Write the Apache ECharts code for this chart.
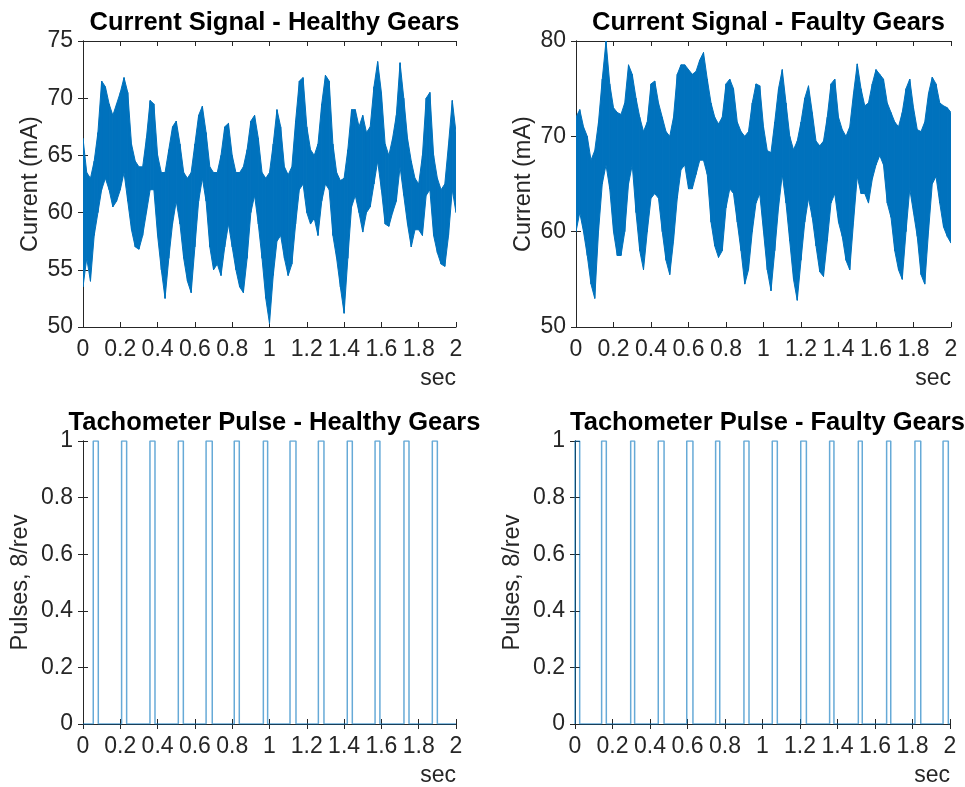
<!DOCTYPE html>
<html>
<head>
<meta charset="utf-8">
<script src="https://cdn.jsdelivr.net/npm/echarts@6/dist/echarts.min.js"></script>
<style>
  html, body { margin: 0; padding: 0; background: #fff; }
  #main { width: 965px; height: 787px; }
</style>
</head>
<body>
<div id="main"></div>
<script>
// sample times (sec) of the envelope readings, every 0.02 s
var timeSec = [
  0, 0.02, 0.04, 0.06, 0.08, 0.1, 0.12, 0.14, 0.16, 0.18,
  0.2, 0.22, 0.24, 0.26, 0.28, 0.3, 0.32, 0.34, 0.36, 0.38,
  0.4, 0.42, 0.44, 0.46, 0.48, 0.5, 0.52, 0.54, 0.56, 0.58,
  0.6, 0.62, 0.64, 0.66, 0.68, 0.7, 0.72, 0.74, 0.76, 0.78,
  0.8, 0.82, 0.84, 0.86, 0.88, 0.9, 0.92, 0.94, 0.96, 0.98,
  1, 1.02, 1.04, 1.06, 1.08, 1.1, 1.12, 1.14, 1.16, 1.18,
  1.2, 1.22, 1.24, 1.26, 1.28, 1.3, 1.32, 1.34, 1.36, 1.38,
  1.4, 1.42, 1.44, 1.46, 1.48, 1.5, 1.52, 1.54, 1.56, 1.58,
  1.6, 1.62, 1.64, 1.66, 1.68, 1.7, 1.72, 1.74, 1.76, 1.78,
  1.8, 1.82, 1.84, 1.86, 1.88, 1.9, 1.92, 1.94, 1.96, 1.98,
  2
];

// current signal envelope (mA): max / min in each 0.02 s slot
var healthyHigh = [
  66.5, 63.5, 63, 64.5, 67, 71.5, 71, 69.5, 68.5, 69.5,
  70.5, 71.8, 70.5, 66, 64.5, 64, 64, 66.5, 69.8, 69.5,
  65, 63.5, 63.5, 65.5, 67.5, 68, 66, 63.5, 63, 63.5,
  66, 68.5, 69.3, 67, 64, 63.5, 63.5, 65, 67.5, 67.8,
  65, 63.5, 63.5, 64, 65.5, 68, 68.5, 66.5, 63.5, 63,
  63.5, 66, 69, 67.5, 64, 63.3, 64, 68, 71.5, 71.8,
  67.5, 65.5, 65, 66, 69.5, 72, 71.5, 66, 63.5, 62.8,
  63, 65.5, 69, 69, 67.5, 68.5, 67, 67.5, 71, 73.2,
  70.5, 66, 65, 66.5, 68.5, 73.1, 70, 66.5, 64.5, 63,
  62.5, 65, 70, 70.5, 65, 63, 62, 62.5, 66, 69.8,
  67
];
var healthyLow = [
  53.5, 56, 54, 58, 60, 62, 63, 62, 60.5, 61,
  62, 63.5, 61, 58.5, 57, 56.8, 58, 60, 62, 62,
  58, 55, 52.5, 56, 59, 61, 59, 56, 54, 53,
  57, 61, 63, 61, 57, 55, 55.5, 54.5, 57, 59,
  57, 55, 53.5, 53, 56, 60, 61.5, 59, 56, 52.5,
  50.3, 54.5, 57.5, 58, 56, 54.5, 55.5, 59, 62, 62.5,
  60, 59, 59.5, 58, 61, 62.5, 62, 58, 56, 53.5,
  51.2, 56, 60.5, 61.5, 60, 58.3, 60, 60.5, 62.5, 64.5,
  62, 59, 58.8, 60, 61, 64, 61.5, 59, 57, 58.5,
  58.5, 58, 61.5, 62, 58, 56.5, 55.5, 55.3, 58, 62,
  60
];
var faultyHigh = [
  72, 72.8, 71, 70, 67.5, 68.5, 71.5, 76, 80, 75.5,
  73, 72.5, 72.3, 73.5, 77.5, 76.5, 74, 72, 70.5, 71.5,
  75.5, 75.8, 73.5, 72, 70.5, 70, 72, 76.5, 77.5, 77.5,
  77, 76.5, 76.8, 78, 78.8, 76, 73.5, 72, 71.3, 72,
  75.5, 76, 75, 71.5, 70.5, 70, 70.5, 73.5, 75.5, 75.3,
  71, 68.5, 68.3, 71.5, 75, 77, 73.5, 70, 68.6, 69.5,
  71.5, 74, 75.3, 72.5, 69.5, 69, 69.5, 72, 75.5, 76,
  72, 70.7, 70, 71, 74.5, 77.6, 75, 73.2, 73.5, 75.5,
  77, 76.5, 76, 73.5, 72.5, 71.5, 71, 72.5, 75, 76,
  73, 70.7, 70.5, 71.5, 74.5, 76.2, 75.5, 73.5, 73.2, 73,
  72.5
];
var faultyLow = [
  60, 62, 60, 57.5, 54.5, 53, 60, 65, 67, 64.5,
  60, 57.5, 57.5, 60, 65, 67, 62, 58, 56, 60,
  63.5, 64, 63.5, 60, 57, 55.5, 59, 63.5, 66.5, 67,
  64.5, 64.5, 66, 67.5, 67.5, 66, 61, 58.5, 57.3, 58,
  62.5, 64.5, 64, 61, 58, 54.5, 56, 60, 63, 64,
  60, 56, 53.8, 58, 62.5, 66, 63, 59, 55, 52.8,
  57, 61, 63.5, 61.5, 58.5, 55.8, 55.3, 59, 63, 64,
  61, 59.5, 57, 56, 61, 65.8, 64, 64, 63, 65.5,
  67, 68, 67, 63, 61.5, 58, 56, 55, 60, 64.5,
  62, 59.5, 55.5, 54.5, 60, 65, 65.8, 63, 60.5, 59.5,
  58.8
];

// tachometer pulses: rising / falling edge times (sec)
var healthyRise = [0.055, 0.207, 0.359, 0.511, 0.660, 0.811, 0.967, 1.110, 1.262, 1.417, 1.566, 1.721, 1.873];
var healthyFall = [0.082, 0.234, 0.386, 0.538, 0.693, 0.838, 0.990, 1.142, 1.292, 1.444, 1.592, 1.748, 1.900];
var faultyRise = [0.000, 0.142, 0.297, 0.444, 0.596, 0.750, 0.901, 1.052, 1.204, 1.358, 1.511, 1.662, 1.813, 1.963];
var faultyFall = [0.025, 0.167, 0.318, 0.475, 0.629, 0.772, 0.928, 1.079, 1.234, 1.381, 1.532, 1.684, 1.844, 1.991];

var titles = [
  'Current Signal - Healthy Gears',
  'Current Signal - Faulty Gears',
  'Tachometer Pulse - Healthy Gears',
  'Tachometer Pulse - Faulty Gears'
];

var LINE_BLUE = '#0072BD';
var AXIS_GRAY = '#262626';
var FONT = '"Liberation Sans", Arial, Helvetica, sans-serif';

var grids = [
  { left: 83, top: 41, width: 373, height: 286 },
  { left: 576, top: 41, width: 375, height: 286 },
  { left: 83, top: 441, width: 373, height: 285 },
  { left: 575, top: 441, width: 375, height: 285 }
];
var yRanges = [
  { min: 50, max: 75, interval: 5, name: 'Current (mA)', gap: 40 },
  { min: 50, max: 80, interval: 10, name: 'Current (mA)', gap: 40 },
  { min: 0, max: 1, interval: 0.2, name: 'Pulses, 8/rev', gap: 50 },
  { min: 0, max: 1, interval: 0.2, name: 'Pulses, 8/rev', gap: 50 }
];

var xAxes = [], yAxes = [], titleList = [];
grids.forEach(function (g, i) {
  var tick = { show: true, inside: true, length: 5, lineStyle: { color: AXIS_GRAY, width: 1 } };
  var line = { show: true, lineStyle: { color: AXIS_GRAY, width: 1 } };
  xAxes.push({
    type: 'value', gridIndex: i, min: 0, max: 2, interval: 0.2,
    axisLine: line, axisTick: tick, splitLine: { show: false },
    axisLabel: { fontSize: 23, color: AXIS_GRAY, fontFamily: FONT, margin: 11 },
    name: 'sec', nameLocation: 'end', nameGap: 0,
    nameTextStyle: { fontSize: 23, color: AXIS_GRAY, fontFamily: FONT, align: 'right', verticalAlign: 'top', padding: [40, 0, 0, 0] }
  });
  xAxes.push({
    type: 'value', gridIndex: i, position: 'top', min: 0, max: 2, interval: 0.2,
    axisLine: line, axisTick: tick, axisLabel: { show: false }, splitLine: { show: false }
  });
  var r = yRanges[i];
  yAxes.push({
    type: 'value', gridIndex: i, min: r.min, max: r.max, interval: r.interval,
    axisLine: line, axisTick: tick, splitLine: { show: false },
    axisLabel: { fontSize: 23, color: AXIS_GRAY, fontFamily: FONT, margin: 10 },
    name: r.name, nameLocation: 'middle', nameGap: r.gap,
    nameTextStyle: { fontSize: 23.5, color: AXIS_GRAY, fontFamily: FONT }
  });
  yAxes.push({
    type: 'value', gridIndex: i, position: 'right', min: r.min, max: r.max, interval: r.interval,
    axisLine: line, axisTick: tick, axisLabel: { show: false }, splitLine: { show: false }
  });
  titleList.push({
    text: titles[i], left: g.left + g.width / 2, top: g.top - 36, textAlign: 'center',
    textStyle: { fontSize: 25.5, fontWeight: 'bold', color: '#000', fontFamily: FONT }
  });
});

// filled band between the min and max envelope, one quad per 0.02 s slot
function bandSeries(gi, high, low) {
  var segs = [];
  for (var k = 0; k < timeSec.length - 1; k++) {
    segs.push([timeSec[k], high[k], low[k], timeSec[k + 1], high[k + 1], low[k + 1]]);
  }
  return {
    type: 'custom', xAxisIndex: gi * 2, yAxisIndex: gi * 2, data: segs,
    silent: true, animation: false, clip: true,
    encode: { x: [0, 3], y: [1, 2, 4, 5] },
    renderItem: function (params, api) {
      var a = api.coord([api.value(0), api.value(1)]);
      var b = api.coord([api.value(3), api.value(4)]);
      var c = api.coord([api.value(3), api.value(5)]);
      var d = api.coord([api.value(0), api.value(2)]);
      return {
        type: 'polygon',
        shape: { points: [a, b, c, d] },
        style: { fill: LINE_BLUE, stroke: LINE_BLUE, lineWidth: 1 }
      };
    }
  };
}

function pulseSeries(gi, rise, fall) {
  var pts = [[0, 0]];
  rise.forEach(function (r, k) {
    pts.push([r, 0], [r, 1], [fall[k], 1], [fall[k], 0]);
  });
  pts.push([2, 0]);
  return {
    type: 'line', xAxisIndex: gi * 2, yAxisIndex: gi * 2, data: pts,
    showSymbol: false, silent: true, animation: false,
    lineStyle: { color: LINE_BLUE, width: 1.5, opacity: 0.6 }
  };
}

var series = [
  bandSeries(0, healthyHigh, healthyLow),
  bandSeries(1, faultyHigh, faultyLow),
  pulseSeries(2, healthyRise, healthyFall),
  pulseSeries(3, faultyRise, faultyFall)
];

var chart = echarts.init(document.getElementById('main'));
chart.setOption({
  backgroundColor: '#fff',
  animation: false,
  title: titleList,
  grid: grids,
  xAxis: xAxes,
  yAxis: yAxes,
  series: series
});
</script>
</body>
</html>
